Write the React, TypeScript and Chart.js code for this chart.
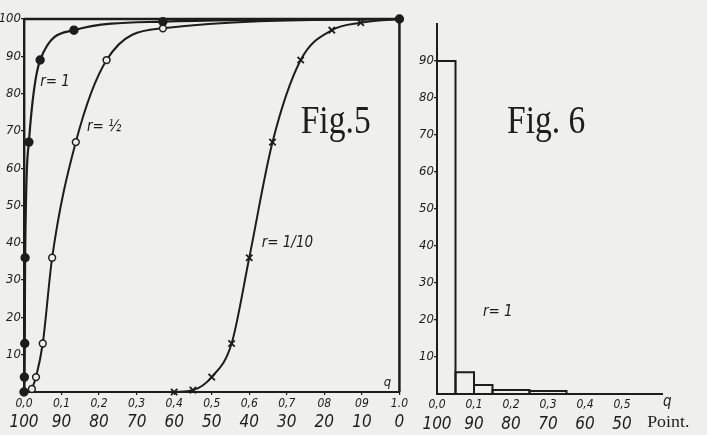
import React, { useEffect, useRef } from 'react';
import { Chart, registerables } from 'chart.js';

Chart.register(...registerables);

// ---------- data ----------
const fig5XTicks = [0, 0.1, 0.2, 0.3, 0.4, 0.5, 0.6, 0.7, 0.8, 0.9, 1.0];
const fig5XTopLabels = ['0,0', '0,1', '0,2', '0,3', '0,4', '0,5', '0,6', '0,7', '08', '09', '1.0'];
const fig5XBottomLabels = ['100', '90', '80', '70', '60', '50', '40', '30', '20', '10', '0'];
const fig5YTicks = [10, 20, 30, 40, 50, 60, 70, 80, 90, 100];
const fig5YLabels = ['10', '20', '30', '40', '50', '60', '70', '80', '90', '100'];

const r1X = [0, 0.001, 0.002, 0.003, 0.013, 0.043, 0.133, 0.37, 1.0];
const r1Y = [0, 4, 13, 36, 67, 89, 97, 99.3, 100];
const rHalfX = [0.021, 0.032, 0.05, 0.075, 0.138, 0.22, 0.37, 1.0];
const rHalfY = [0.8, 4, 13, 36, 67, 89, 97.5, 100];
const rTenthX = [0.4, 0.45, 0.5, 0.553, 0.6, 0.662, 0.737, 0.82, 0.897, 1.0];
const rTenthY = [0, 0.5, 4, 13, 36, 67, 89, 97, 99, 100];

const fig6XTicks = [0, 0.1, 0.2, 0.3, 0.4, 0.5];
const fig6XTopLabels = ['0,0', '0,1', '0,2', '0,3', '0,4', '0,5'];
const fig6XBottomLabels = ['100', '90', '80', '70', '60', '50'];
const fig6YTicks = [10, 20, 30, 40, 50, 60, 70, 80, 90];
const fig6YLabels = ['10', '20', '30', '40', '50', '60', '70', '80', '90'];

const histEdges = [0, 0.05, 0.1, 0.15, 0.25, 0.35];
const histValues = [90, 5.9, 2.4, 1.1, 0.8];

// ---------- styles ----------
const INK = '#1d1d1d';
const PAPER = '#efefec';
const HAND = "'Liberation Sans Narrow', 'DejaVu Sans Condensed', 'Liberation Sans', sans-serif";
const SERIF = "'Liberation Serif', 'DejaVu Serif', serif";

const zip = (xs: number[], ys: number[]) => xs.map((x, i) => ({ x, y: ys[i] }));

function drawText(
  ctx: CanvasRenderingContext2D,
  text: string,
  x: number,
  y: number,
  font: string,
  align: CanvasTextAlign = 'left',
  baseline: CanvasTextBaseline = 'middle',
  sx = 1
) {
  ctx.save();
  ctx.fillStyle = INK;
  ctx.font = font;
  ctx.textAlign = align;
  ctx.textBaseline = baseline;
  ctx.translate(x, y);
  ctx.scale(sx, 1);
  ctx.fillText(text, 0, 0);
  ctx.restore();
}

function axisCommon(ticksArr: number[], labels: string[], fontSize: number, padding: number, extra: any) {
  return {
    type: 'linear',
    afterBuildTicks: (s: any) => {
      s.ticks = ticksArr.map((v) => ({ value: v }));
    },
    ticks: {
      callback: (_v: any, i: number) => labels[i],
      font: { family: HAND, size: fontSize, style: 'italic' },
      color: INK,
      padding,
      autoSkip: false,
      maxRotation: 0,
      minRotation: 0,
    },
    ...extra,
  };
}

function fig5Config(): any {
  const labelsPlugin = {
    id: 'fig5labels',
    afterDatasetsDraw(chart: any) {
      const { ctx } = chart;
      const x = chart.scales.x;
      const y = chart.scales.y;
      const px = (v: number) => x.getPixelForValue(v);
      const py = (v: number) => y.getPixelForValue(v);
      drawText(ctx, 'r= 1', px(0.043), py(83), `italic 15px ${HAND}`);
      drawText(ctx, 'r= ½', px(0.168), py(71), `italic 15px ${HAND}`);
      drawText(ctx, 'r= 1/10', px(0.633), py(40), `italic 15px ${HAND}`);
      drawText(ctx, 'Fig.5', px(0.737), py(69.4), `40px ${SERIF}`, 'left', 'alphabetic', 0.84);
      drawText(ctx, 'q', px(0.968), py(2.5), `italic 13px ${HAND}`, 'center');
    },
  };
  return {
    type: 'scatter',
    data: {
      datasets: [
        {
          label: 'frame',
          data: [{ x: 0, y: 100 }, { x: 1, y: 100 }, { x: 1, y: 0 }],
          showLine: true,
          borderColor: INK,
          borderWidth: 2.5,
          pointRadius: 0,
          tension: 0,
          clip: false,
        },
        {
          label: 'r=1',
          data: zip(r1X, r1Y),
          showLine: true,
          borderColor: INK,
          borderWidth: 2.2,
          cubicInterpolationMode: 'monotone',
          pointStyle: 'circle',
          pointRadius: 3.6,
          pointBackgroundColor: INK,
          pointBorderColor: INK,
          clip: false,
        },
        {
          label: 'r=1/2',
          data: zip(rHalfX, rHalfY),
          showLine: true,
          borderColor: INK,
          borderWidth: 2,
          cubicInterpolationMode: 'monotone',
          pointStyle: 'circle',
          pointRadius: rHalfX.map((_, i) => (i === rHalfX.length - 1 ? 0 : 3.4)),
          pointBackgroundColor: PAPER,
          pointBorderColor: INK,
          pointBorderWidth: 1.5,
          clip: false,
        },
        {
          label: 'r=1/10',
          data: zip(rTenthX, rTenthY),
          showLine: true,
          borderColor: INK,
          borderWidth: 2,
          cubicInterpolationMode: 'monotone',
          pointStyle: 'crossRot',
          pointRadius: rTenthX.map((_, i) => (i === rTenthX.length - 1 ? 0 : 4.5)),
          pointBorderColor: INK,
          pointBorderWidth: 1.8,
          clip: false,
        },
      ],
    },
    options: {
      responsive: false,
      animation: false,
      events: [],
      layout: { padding: { left: 0, right: 10, top: 19, bottom: 0 } },
      plugins: { legend: { display: false }, tooltip: { enabled: false } },
      scales: {
        x: axisCommon(fig5XTicks, fig5XTopLabels, 12, 2, {
          min: 0,
          max: 1,
          position: 'bottom',
          weight: 0,
          afterFit: (s: any) => {
            s.height = 20;
          },
          grid: { drawOnChartArea: false, tickLength: 3, color: INK, lineWidth: 1.2 },
          border: { display: true, color: INK, width: 2 },
        }),
        x2: axisCommon(fig5XTicks, fig5XBottomLabels, 17, 0, {
          min: 0,
          max: 1,
          position: 'bottom',
          weight: 1,
          afterFit: (s: any) => {
            s.height = 23;
          },
          grid: { display: false, drawTicks: false, tickLength: 0 },
          border: { display: false },
        }),
        y: axisCommon(fig5YTicks, fig5YLabels, 13, 0, {
          min: 0,
          max: 100,
          position: 'left',
          afterFit: (s: any) => {
            s.width = 24;
          },
          grid: { drawOnChartArea: false, tickLength: 3, color: INK, lineWidth: 1.2 },
          border: { display: true, color: INK, width: 2.4 },
        }),
      },
    },
    plugins: [labelsPlugin],
  };
}

function fig6Config(): any {
  const labelsPlugin = {
    id: 'fig6labels',
    afterDatasetsDraw(chart: any) {
      const { ctx } = chart;
      const x = chart.scales.x;
      const y = chart.scales.y;
      const px = (v: number) => x.getPixelForValue(v);
      const py = (v: number) => y.getPixelForValue(v);
      drawText(ctx, 'Fig. 6', px(0.189), py(70.5), `40px ${SERIF}`, 'left', 'alphabetic', 0.84);
      drawText(ctx, 'r= 1', px(0.124), py(22), `italic 15px ${HAND}`);
      drawText(ctx, 'q', px(0.622), py(-2.3), `italic 15px ${HAND}`, 'center');
      drawText(ctx, 'Point.', px(0.568), py(-7.6), `17px ${SERIF}`, 'left', 'middle', 1.05);
    },
  };
  const datasets = histValues.map((v, i) => ({
    label: `bin${i}`,
    data: [
      { x: histEdges[i], y: 0 },
      { x: histEdges[i], y: v },
      { x: histEdges[i + 1], y: v },
      { x: histEdges[i + 1], y: 0 },
    ],
    showLine: true,
    borderColor: INK,
    borderWidth: 2,
    pointRadius: 0,
    tension: 0,
    clip: false,
  }));
  return {
    type: 'scatter',
    data: { datasets },
    options: {
      responsive: false,
      animation: false,
      events: [],
      layout: { padding: { left: 0, right: 45, top: 24, bottom: 0 } },
      plugins: { legend: { display: false }, tooltip: { enabled: false } },
      scales: {
        x: axisCommon(fig6XTicks, fig6XTopLabels, 12, 4, {
          min: 0,
          max: 0.608,
          position: 'bottom',
          weight: 0,
          afterFit: (s: any) => {
            s.height = 19;
          },
          grid: { display: false, drawTicks: false, tickLength: 0 },
          border: { display: true, color: INK, width: 2 },
        }),
        x2: axisCommon(fig6XTicks, fig6XBottomLabels, 17, 1, {
          min: 0,
          max: 0.608,
          position: 'bottom',
          weight: 1,
          afterFit: (s: any) => {
            s.height = 22;
          },
          grid: { display: false, drawTicks: false, tickLength: 0 },
          border: { display: false },
        }),
        y: axisCommon(fig6YTicks, fig6YLabels, 13, 0, {
          min: 0,
          max: 100,
          position: 'left',
          afterFit: (s: any) => {
            s.width = 27;
          },
          grid: { drawOnChartArea: false, tickLength: 3, color: INK, lineWidth: 1.2 },
          border: { display: true, color: INK, width: 2 },
        }),
      },
    },
    plugins: [labelsPlugin],
  };
}

export default function App() {
  const ref5 = useRef<HTMLCanvasElement>(null);
  const ref6 = useRef<HTMLCanvasElement>(null);

  useEffect(() => {
    const c5 = new Chart(ref5.current as HTMLCanvasElement, fig5Config());
    const c6 = new Chart(ref6.current as HTMLCanvasElement, fig6Config());
    return () => {
      c5.destroy();
      c6.destroy();
    };
  }, []);

  return (
    <div
      style={{
        position: 'fixed',
        left: 0,
        top: 0,
        width: 707,
        height: 435,
        background: PAPER,
        overflow: 'hidden',
      }}
    >
      <canvas
        ref={ref5}
        width={410}
        height={435}
        style={{ position: 'absolute', left: 0, top: 0, width: 410, height: 435 }}
      />
      <canvas
        ref={ref6}
        width={297}
        height={435}
        style={{ position: 'absolute', left: 410, top: 0, width: 297, height: 435 }}
      />
    </div>
  );
}
